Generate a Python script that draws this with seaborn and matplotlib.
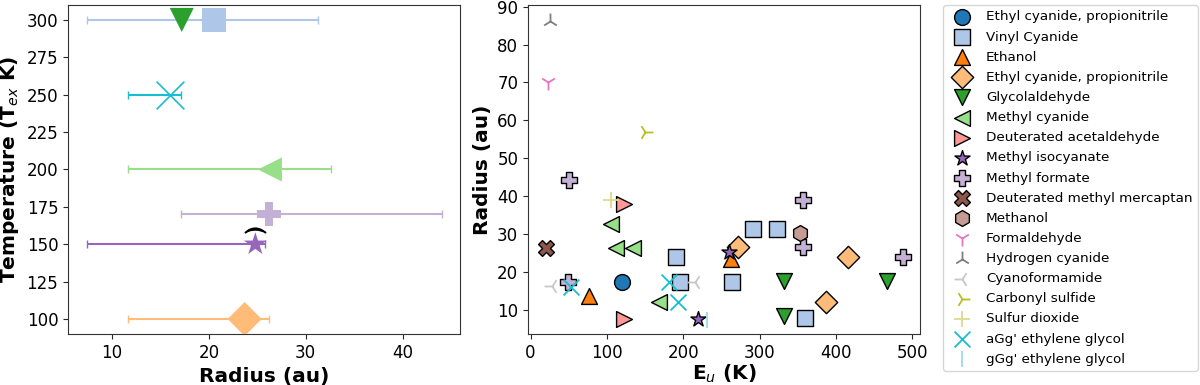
import matplotlib
matplotlib.use("Agg")
import matplotlib.pyplot as plt
import seaborn as sns
import pandas as pd

# species, in legend order
species = ["Ethyl cyanide, propionitrile", "Vinyl Cyanide", "Ethanol",
           "Ethyl cyanide, propionitrile ", "Glycolaldehyde", "Methyl cyanide",
           "Deuterated acetaldehyde", "Methyl isocyanate", "Methyl formate",
           "Deuterated methyl mercaptan", "Methanol", "Formaldehyde",
           "Hydrogen cyanide", "Cyanoformamide", "Carbonyl sulfide",
           "Sulfur dioxide", "aGg' ethylene glycol", "gGg' ethylene glycol"]
markers = ["o", "s", "^", "D", "v", "<", ">", "*", "P", "X", "h",
           "1", "2", "3", "4", "+", "x", "|"]
tab20 = sns.color_palette("tab20")
color_idx = [0, 1, 2, 3, 4, 5, 7, 8, 9, 10, 11, 12, 14, 15, 16, 17, 18, 19]
colors = [tab20[k] for k in color_idx]

# right panel: upper-state energy vs radius (species index per point)
pt_species = [0,
              1, 1, 1, 1, 1, 1,
              2, 2,
              3, 3, 3,
              4, 4, 4,
              5, 5, 5, 5,
              6, 6,
              7, 7,
              8, 8, 8, 8, 8,
              9, 10, 11, 12,
              13, 13,
              14, 15,
              16, 16, 16,
              17]
pt_eu = [119.9,
         190.8, 196.0, 264.4, 291.1, 323.3, 359.5,
         77.1, 262.4,
         271.5, 416.0, 386.9,
         332.0, 467.0, 332.0,
         105.5, 112.4, 134.2, 168.6,
         122.9, 122.9,
         218.7, 259.7,
         50.1, 48.8, 356.5, 356.5, 487.2,
         20.9, 352.9, 23.1, 26.1,
         28.4, 214.8,
         149.4, 105.9,
         53.2, 180.8, 193.1,
         231.0]
pt_radius = [17.2,
             23.9, 17.2, 17.2, 31.4, 31.4, 7.7,
             13.7, 23.3,
             26.4, 23.9, 11.9,
             17.5, 17.5, 8.3,
             32.7, 26.2, 26.2, 11.9,
             38.0, 7.5,
             7.4, 25.1,
             44.2, 17.3, 38.9, 26.4, 23.9,
             26.2, 30.2, 70.0, 86.3,
             16.1, 17.2,
             57.0, 38.9,
             15.9, 17.2, 11.9,
             7.3]

# left panel: excitation temperature vs radius with ranges
tex_species = [1, 4, 16, 5, 8, 7, 3]
tex_temp = [300, 300, 250, 200, 170, 150, 100]
tex_radius = [20.5, 17.2, 16.0, 26.3, 26.2, 24.8, 23.7]
tex_rmin = [7.4, None, 11.7, 11.7, 17.1, 7.4, 11.7]
tex_rmax = [31.3, None, 17.1, 32.6, 44.1, 25.8, 26.2]

sns.set_style("ticks")
plt.rcParams["font.family"] = ["DejaVu Sans"]
plt.rcParams["text.color"] = "black"
plt.rcParams["axes.labelcolor"] = "black"
plt.rcParams["xtick.labelcolor"] = "black"
plt.rcParams["ytick.labelcolor"] = "black"
plt.rcParams["axes.edgecolor"] = "#333333"

fig = plt.figure(figsize=(12, 3.85), dpi=100)
ax1 = fig.add_axes([0.0567, 0.1325, 0.3267, 0.8545])
ax2 = fig.add_axes([0.44, 0.1325, 0.3267, 0.8545])

# Left panel
for i, t, r, lo, hi in zip(tex_species, tex_temp, tex_radius, tex_rmin, tex_rmax):
    if lo is not None:
        ax1.errorbar(r, t, xerr=[[r - lo], [hi - r]], fmt="none",
                     ecolor=colors[i], elinewidth=1.5, capsize=3, zorder=2)
    df = pd.DataFrame({"r": [r], "t": [t]})
    if markers[i] == "x":
        sns.scatterplot(data=df, x="r", y="t", marker="x", color=colors[i],
                        s=400, linewidth=1.2, ax=ax1, zorder=3, legend=False)
    else:
        sns.scatterplot(data=df, x="r", y="t", marker=markers[i], color=colors[i],
                        s=300, edgecolor="none", linewidth=0,
                        ax=ax1, zorder=3, legend=False)
ax1.scatter([24.8], [159.5], marker=r"$\frown$", s=220, color="k", zorder=4)
ax1.set_xlim(5.46, 45.94)
ax1.set_ylim(90, 310)
ax1.set_xticks([10, 20, 30, 40])
ax1.set_yticks(range(100, 301, 25))
ax1.set_xlabel("Radius (au)", fontsize=14.5, fontweight="bold")
ax1.set_ylabel("Temperature (T$_{ex}$ K)", fontsize=14.5, fontweight="bold")
ax1.tick_params(labelsize=12)

# Right panel
pts = pd.DataFrame({"sp": pt_species, "eu": pt_eu, "radius": pt_radius})
for i, name in enumerate(species):
    sub = pts[pts["sp"] == i]
    kw = dict(marker=markers[i], color=colors[i], s=130, ax=ax2, label=name)
    if markers[i] in ["1", "2", "3", "4", "+", "x", "|"]:
        kw["linewidth"] = 1.3
    else:
        kw["edgecolor"] = "k"
        kw["linewidth"] = 1
    sns.scatterplot(data=sub, x="eu", y="radius", **kw)
ax2.set_xlim(-3.3, 510)
ax2.set_ylim(3.55, 90.45)
ax2.set_xticks(range(0, 501, 100))
ax2.set_yticks(range(10, 91, 10))
ax2.set_xlabel("E$_u$ (K)", fontsize=14.5, fontweight="bold", labelpad=1)
ax2.set_ylabel("Radius (au)", fontsize=14.5, fontweight="bold")
ax2.tick_params(labelsize=12)
ax2.legend(loc="upper left", bbox_to_anchor=(943 / 1200, 0.987),
           bbox_transform=fig.transFigure, borderaxespad=0, fontsize=9.7,
           labelspacing=0.53, handletextpad=0.8, frameon=True)

fig.savefig("out.png", dpi=100)
